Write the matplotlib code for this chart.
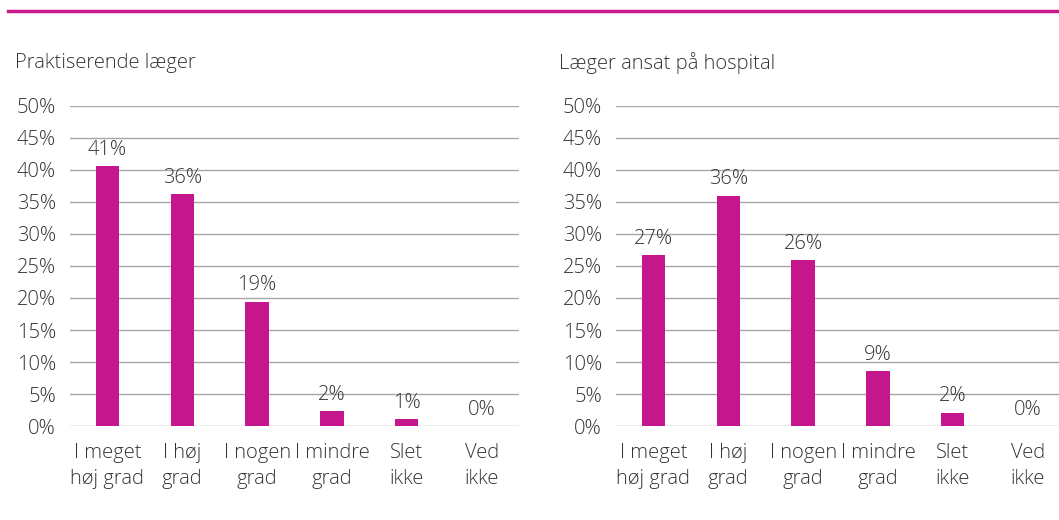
import numpy as np
import matplotlib.pyplot as plt

plt.rcParams['font.family'] = ['Open Sans', 'DejaVu Sans']
plt.rcParams['font.weight'] = 'light'

categories = ["I meget\nhøj grad", "I høj\ngrad", "I nogen\ngrad", "I mindre\ngrad", "Slet\nikke", "Ved\nikke"]
praktiserende = [40.6, 36.2, 19.4, 2.3, 1.1, 0.0]
hospital = [26.7, 36.0, 25.9, 8.6, 2.1, 0.0]
titles = ["Praktiserende læger", "Læger ansat på hospital"]
yticks = [0, 5, 10, 15, 20, 25, 30, 35, 40, 45, 50]

bar_color = '#c6168d'
text_color = '#333333'
grid_color = '#a8a8a8'
fs = 14.5

W, H = 1059, 520
fig = plt.figure(figsize=(W / 100, H / 100), dpi=100)

# magenta rule at top
fig.add_artist(plt.Line2D([8 / W, 1.0], [1 - 11 / H, 1 - 11 / H], color='#c8188c', lw=2.5))

panels = [(70, 519, 5.5, praktiserende, 15), (616, 1059, 5.42, hospital, 559)]
for (x0, x1, xmax, values, tx), title in zip(panels, titles):
    ax = fig.add_axes([x0 / W, 1 - 426 / H, (x1 - x0) / W, 320 / H])
    x = np.arange(len(categories))
    ax.bar(x, values, width=0.31, color=bar_color, zorder=3)
    for xi, v in zip(x, values):
        ax.text(xi, v + 1.0, f"{round(v):d}%", ha='center', va='bottom',
                fontsize=fs, color=text_color)
    ax.set_xlim(-0.5, xmax)
    ax.set_ylim(0, 50)
    ax.set_yticks(yticks)
    ax.set_yticklabels([f"{t}%" for t in yticks])
    ax.yaxis.grid(True, color=grid_color, lw=1, zorder=0)
    ax.set_xticks(x)
    ax.set_xticklabels(categories, linespacing=1.45)
    ax.tick_params(axis='both', length=0, labelsize=fs, colors=text_color)
    ax.tick_params(axis='x', pad=12)
    ax.tick_params(axis='y', pad=10)
    for s in ax.spines.values():
        s.set_visible(False)
    fig.text(tx / W, 1 - 63 / H, title, fontsize=fs, color=text_color, ha='left', va='center')

fig.savefig('out.png', dpi=100)
